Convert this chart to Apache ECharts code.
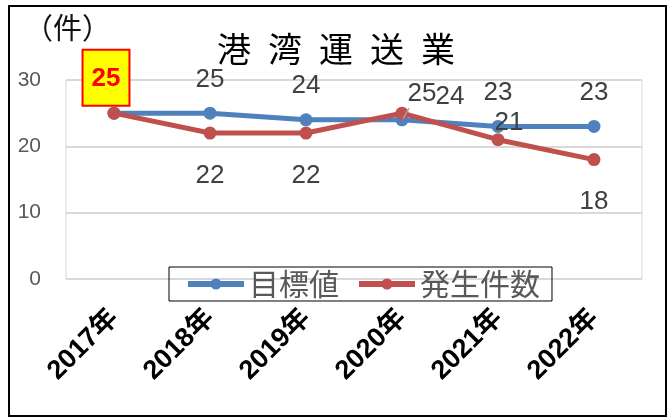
<!DOCTYPE html>
<html>
<head>
<meta charset="utf-8">
<script src="https://cdn.jsdelivr.net/npm/echarts@6/dist/echarts.min.js"></script>
<style>
  html, body { margin: 0; padding: 0; background: #fff; }
  #main { width: 672px; height: 420px; }
</style>
</head>
<body>
<div id="main"></div>
<script>
// データ
var years = ['2017年', '2018年', '2019年', '2020年', '2021年', '2022年'];
var target = [25, 25, 24, 24, 23, 23];     // 目標値
var actual = [25, 22, 22, 25, 21, 18];     // 発生件数
var yTicks = [0, 10, 20, 30];

var FONT = '"Noto Sans CJK JP", sans-serif';
var NUMFONT = '"Liberation Sans", "Noto Sans CJK JP", sans-serif';
var labelFont = {fontSize: 26, color: '#404040', fontFamily: NUMFONT};

// 目標値のラベル (上)
var targetData = target.map(function (v, i) {
  var lbl = {show: true, position: 'top', distance: 14};
  if (i === 0) lbl = {show: false};
  if (i === 3) lbl = {show: true, position: 'top', distance: 3, offset: [48, 0]};
  return {value: v, label: lbl};
});

// 発生件数のラベル (下)
var actualData = actual.map(function (v, i) {
  var lbl = {show: true, position: 'bottom', distance: 23};
  if (i === 0) {
    lbl = {
      show: true, position: 'top', distance: 2, offset: [-8, 0],
      backgroundColor: '#ffff00', borderColor: '#ff0000', borderWidth: 2,
      padding: [15, 8, 13, 8], color: '#ff0000', fontWeight: 'bold', fontSize: 26
    };
  }
  if (i === 3) lbl = {show: true, position: 'top', distance: 0, offset: [20, 0]};
  if (i === 4) lbl = {show: true, position: 'top', distance: -3, offset: [11, 0]};
  return {value: v, label: lbl};
});

var myChart = echarts.init(document.getElementById('main'));
var option = {
  animation: false,
  textStyle: {fontFamily: FONT},
  graphic: [
    {type: 'rect', shape: {x: 9, y: 6, width: 657, height: 410},
     style: {fill: 'none', stroke: '#000', lineWidth: 2}, z: 100},
    {type: 'text', left: 24, top: 13,
     style: {text: '（件）', fontSize: 29, fill: '#111', fontFamily: FONT}},
    // 2020年 発生件数ラベルの引き出し線
    {type: 'line', shape: {x1: 403, y1: 119, x2: 409, y2: 108},
     style: {stroke: '#a6a6a6', lineWidth: 1.5}, z: 50}
  ],
  title: {
    text: '港\u2002湾\u2002運\u2002送\u2002業',
    left: 'center', top: 27,
    textStyle: {fontSize: 34, fontWeight: 'normal', color: '#000', fontFamily: FONT}
  },
  legend: {
    left: 169, top: 267,
    padding: [2, 12, 2, 16],
    borderColor: '#000', borderWidth: 1,
    itemWidth: 56, itemHeight: 14, itemGap: 17,
    lineStyle: {width: 6},
    textStyle: {fontSize: 30, color: '#595959', fontFamily: FONT},
    data: ['目標値', '発生件数']
  },
  grid: {left: 66, right: 30, top: 80, bottom: 141, show: true, borderColor: '#d9d9d9', borderWidth: 1},
  xAxis: {
    type: 'category',
    data: years,
    boundaryGap: true,
    axisLine: {show: false},
    axisTick: {show: false},
    axisLabel: {rotate: 45, margin: 35, fontSize: 27, color: '#000', fontWeight: 'bold', fontFamily: NUMFONT}
  },
  yAxis: {
    type: 'value',
    min: yTicks[0], max: yTicks[yTicks.length - 1], interval: 10,
    axisLine: {show: false},
    axisTick: {show: false},
    splitLine: {lineStyle: {color: '#d9d9d9', width: 2}},
    axisLabel: {fontSize: 21, color: '#595959', margin: 25, fontFamily: NUMFONT}
  },
  series: [
    {
      name: '目標値', type: 'line', data: targetData,
      symbol: 'circle', symbolSize: 13,
      lineStyle: {color: '#4f81bd', width: 5},
      itemStyle: {color: '#4f81bd'},
      label: labelFont
    },
    {
      name: '発生件数', type: 'line', data: actualData,
      symbol: 'circle', symbolSize: 13,
      lineStyle: {color: '#c0504d', width: 5},
      itemStyle: {color: '#c0504d'},
      label: labelFont
    }
  ]
};
myChart.setOption(option);
</script>
</body>
</html>
